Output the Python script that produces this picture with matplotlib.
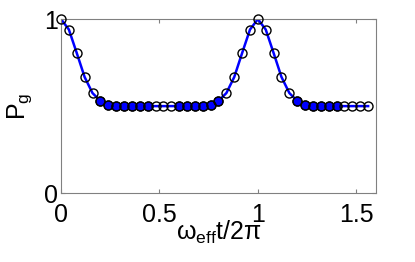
import numpy as np
import matplotlib
matplotlib.use('Agg')
import matplotlib.pyplot as plt

plt.rcParams['font.family'] = ['Liberation Sans', 'DejaVu Sans']
plt.rcParams['mathtext.fontset'] = 'custom'
plt.rcParams['mathtext.rm'] = 'Liberation Sans'
plt.rcParams['mathtext.it'] = 'Liberation Sans'

# time axis (omega_eff t / 2pi), 40 samples
t = np.arange(40) * 0.04
# ground state population
pg = [1.0, 0.94, 0.805, 0.667, 0.575, 0.53, 0.508, 0.502,
      0.5, 0.5, 0.5, 0.5, 0.5, 0.5, 0.5, 0.5, 0.5, 0.5,
      0.502, 0.508, 0.53, 0.575, 0.667, 0.805, 0.94, 1.0,
      0.94, 0.805, 0.667, 0.575, 0.53, 0.508, 0.502,
      0.5, 0.5, 0.5, 0.5, 0.5, 0.5, 0.5]
# points drawn as filled blue dots
filled = [5, 6, 7, 8, 9, 10, 11, 15, 16, 17, 18, 19, 20, 30, 31, 32, 33, 34, 35]

pg = np.array(pg)

fig = plt.figure(figsize=(4.15, 2.62), dpi=100)
ax = fig.add_axes([0.147, 0.263, 0.759, 0.664])

ax.plot(t, pg, color='#0000ff', lw=1.8, zorder=2)
ax.plot(t[filled], pg[filled], 'o', color='#0000ff', mec='k', mew=0.8, ms=6.5, zorder=3)
ax.plot(t, pg, 'o', mfc='none', mec='k', mew=1.0, ms=6.5, zorder=4, clip_on=False)

ax.set_xlim(0, 1.6)
ax.set_ylim(0, 1)
ax.set_xticks([0, 0.5, 1, 1.5])
ax.set_xticklabels(['0', '0.5', '1', '1.5'])
ax.set_yticks([0, 1])
ax.tick_params(direction='in', length=3, top=True, right=True, labelsize=18, color='#808080')
ax.tick_params(axis='x', pad=7)
ax.tick_params(axis='y', pad=2)
for s in ax.spines.values():
    s.set_color('#808080')
    s.set_linewidth(0.8)

ax.set_xlabel(r'$\omega_{\rm eff}$t/2$\pi$', fontsize=18)
ax.xaxis.set_label_coords(0.5, -0.145)
ax.set_ylabel(r'P$_{\rm g}$', fontsize=18)
ax.yaxis.set_label_coords(-0.085, 0.5)

fig.savefig('out.png', dpi=100)
